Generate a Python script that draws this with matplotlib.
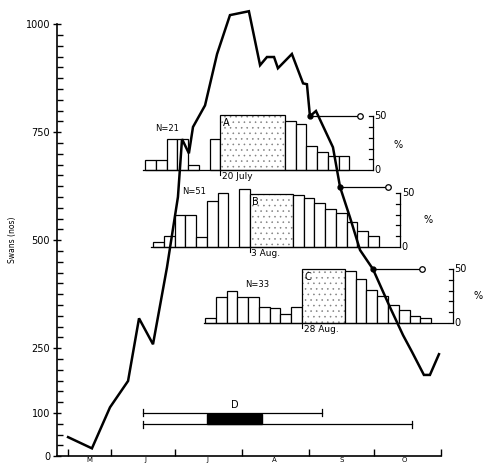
import numpy as np
import matplotlib
matplotlib.use("Agg")
import matplotlib.pyplot as plt
from matplotlib.patches import Rectangle

plt.rcParams['hatch.linewidth'] = 0.4
plt.rcParams['hatch.color'] = '0.45'

# --- Swan counts (x = days after 1 May) ---
days = [11.2, 22.3, 30.7, 39.1, 44.2, 50.7, 57.2, 62.3, 64.2, 67.4, 69.3, 74.9,
        80.5, 86.5, 95.3, 100.5, 103.7, 107.0, 108.8, 115.3, 120.5, 122.3, 123.7,
        126.5, 134.4, 137.7, 142.3, 147.0, 153.0, 160.9, 167.0, 171.2, 176.7,
        179.5, 183.7]
swans = [44, 18, 113, 174, 319, 259, 437, 600, 734, 701, 762, 812,
         931, 1021, 1030, 905, 924, 924, 898, 931, 863, 861, 787,
         799, 715, 623, 553, 477, 433, 345, 280, 241, 188,
         188, 236]

# --- Month axis ---
month_ticks = [11.2, 31.2, 61.0, 92.1, 123.3, 153.5, 184.7]
month_labels = ['M', 'J', 'J', 'A', 'S', 'O']
month_label_pos = [21.0, 47.0, 76.0, 107.0, 138.5, 167.5]

# --- Histograms (% per 5-day period) ---
hist_a_pre = [9, 9, 29, 29, 5, 0, 29]
hist_a_block = 51
hist_a_post = [46, 43, 22, 17, 13, 13]
hist_b_pre = [5, 10, 30, 30, 9, 43, 50, 0, 54]
hist_b_block = 49
hist_b_post = [48, 45, 41, 35, 32, 23, 15, 10]
hist_c_pre = [5, 24, 30, 24, 24, 15, 14, 8, 15]
hist_c_block = 50
hist_c_post = [48, 41, 31, 25, 17, 12, 7, 5]

# --- D ranges ---
d_upper = (46.0, 129.3)
d_lower = (46.0, 171.2)
d_block = (75.8, 101.4)

BIN = 5.0          # days per bar
K = 2.5            # swans-axis units per percent

fig = plt.figure(figsize=(4.84, 4.67), dpi=100)
ax = fig.add_axes([57 / 484, 10 / 467, 427 / 484, 457 / 467])
ax.set_xlim(6.05, 204.65)
ax.set_ylim(-2, 1056)

ax.plot(days, swans, color='black', lw=1.8, solid_joinstyle='miter', zorder=5)


def histogram(start, base, pre, block, nblock, post, scale_x, circle_x, dot_i,
              letter, date, n_label, n_pos, pct_pos):
    x = start
    for v in pre:
        if v > 0:
            ax.add_patch(Rectangle((x, base), BIN, v * K, facecolor='white',
                                   edgecolor='black', lw=0.9, zorder=3))
        x += BIN
    bstart = x
    ax.add_patch(Rectangle((x, base), BIN * nblock, block * K, facecolor='white',
                           edgecolor='0.5', hatch='...', lw=0, zorder=3))
    ax.add_patch(Rectangle((x, base), BIN * nblock, block * K, facecolor='none',
                           edgecolor='black', lw=0.9, zorder=3))
    ax.text(x + 1.2, base + block * K - 6, letter, fontsize=7, va='top', ha='left', zorder=4)
    x += BIN * nblock
    for v in post:
        ax.add_patch(Rectangle((x, base), BIN, v * K, facecolor='white',
                               edgecolor='black', lw=0.9, zorder=3))
        x += BIN
    # baseline
    ax.plot([start - 0.8, scale_x - 2.5], [base, base], color='black', lw=0.9, zorder=3)
    # date tick and label
    ax.plot([bstart, bstart], [base, base - 12], color='black', lw=0.8)
    ax.text(bstart + 0.8, base - 5, date, fontsize=6.5, va='top', ha='left')
    ax.text(n_pos[0], base + n_pos[1], n_label, fontsize=6, ha='center', va='center')
    # percent scale
    ax.plot([scale_x, scale_x], [base, base + 50 * K], color='black', lw=0.9)
    for p in range(0, 51, 10):
        ax.plot([scale_x - 1.9, scale_x], [base + p * K] * 2, color='black', lw=0.9)
    ax.text(scale_x + 0.8, base + 50 * K, '50', fontsize=7, va='center', ha='left')
    ax.text(scale_x + 0.8, base, '0', fontsize=7, va='center', ha='left')
    ax.text(pct_pos[0], base + pct_pos[1] * K, '%', fontsize=7, va='center', ha='center')
    # connector from curve to scale
    ax.plot([days[dot_i], circle_x], [swans[dot_i]] * 2, color='black', lw=0.9, zorder=4)
    ax.plot(days[dot_i], swans[dot_i], 'o', color='black', ms=3.5, zorder=6)
    ax.plot(circle_x, swans[dot_i], 'o', mfc='white', mec='black', mew=0.9, ms=4, zorder=6)


histogram(47.0, 662, hist_a_pre, hist_a_block, 6, hist_a_post, 153.0, 147.0, 22,
          'A', '20 July', 'N=21', (57.2, 97), (164.7, 23))
histogram(50.7, 484, hist_b_pre, hist_b_block, 4, hist_b_post, 165.6, 160.0, 25,
          'B', '3 Aug.', 'N=51', (69.8, 129), (178.6, 25))
histogram(75.0, 308, hist_c_pre, hist_c_block, 4, hist_c_post, 190.2, 175.8, 28,
          'C', '28 Aug.', 'N=33', (99.0, 90), (201.8, 25))

# --- D bars ---
ax.plot(d_upper, [100, 100], color='black', lw=0.9)
ax.plot(d_lower, [74, 74], color='black', lw=0.9)
for xx in d_upper:
    ax.plot([xx, xx], [92, 108], color='black', lw=0.9)
for xx in d_lower:
    ax.plot([xx, xx], [66, 82], color='black', lw=0.9)
ax.add_patch(Rectangle((d_block[0], 74), d_block[1] - d_block[0], 24,
                       facecolor='black', edgecolor='black'))
ax.text(np.mean(d_block), 106, 'D', fontsize=7, ha='center', va='bottom')

# --- axes styling ---
for s in ['top', 'right']:
    ax.spines[s].set_visible(False)
ax.spines['left'].set_bounds(0, 1000)
ax.spines['bottom'].set_position(('data', 0))
ax.spines['bottom'].set_bounds(6.05, month_ticks[-1])
ax.spines['left'].set_linewidth(1.2)
ax.spines['bottom'].set_linewidth(1.2)

ax.set_yticks([0, 100, 250, 500, 750, 1000])
ax.set_yticks(np.arange(0, 1001, 25), minor=True)
ax.tick_params(axis='y', which='major', direction='inout', length=6, width=1,
               labelsize=7, pad=2)
ax.tick_params(axis='y', which='minor', direction='in', length=4, width=1)

ax.set_xticks(month_ticks)
ax.set_xticklabels([])
ax.set_xticks(month_label_pos, minor=True)
ax.set_xticklabels(month_labels, minor=True)
ax.tick_params(axis='x', which='major', direction='in', length=5, width=1)
ax.tick_params(axis='x', which='minor', length=0, labelsize=5, pad=0.5)

fig.text(13 / 484, 1 - 240 / 467, 'Swans (nos)', rotation=90, fontsize=5.5,
         ha='center', va='center')

fig.savefig('out.png', dpi=100)
